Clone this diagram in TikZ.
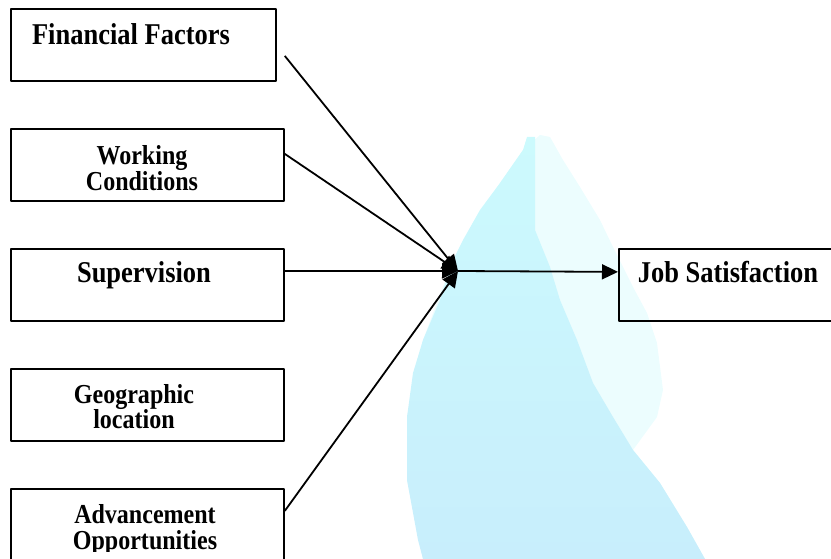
\documentclass[tikz,border=0pt]{standalone}
\usepackage{fontspec}
\setmainfont{Liberation Serif}
\newfontfamily\tallfont{Liberation Serif}[FakeStretch=0.877]
\usetikzlibrary{arrows.meta}

\definecolor{wmlight}{RGB}{236,253,254}
\definecolor{wmtop}{RGB}{204,250,253}
\definecolor{wmbot}{RGB}{200,238,252}

\tikzset{
  factor/.style={draw, line width=1.8pt, minimum width=273pt, minimum height=72pt, anchor=north west, inner sep=0pt},
  bigtxt/.style={font=\tallfont\fontsize{30.2}{32}\selectfont\bfseries, inner sep=0pt, anchor=base},
  smalltxt/.style={font=\tallfont\fontsize{27.4}{25.5}\selectfont\bfseries, inner sep=0pt, anchor=base, align=center},
  link/.style={line width=1.8pt, -{Triangle[length=16pt,width=15pt]}},
}

\begin{document}
\begin{tikzpicture}[x=1pt, y=-1pt, line join=round]
  \useasboundingbox (0,0) rectangle (831,559);
  % pale swoosh in the background
  \fill[wmlight] (540,135) -- (550,137) -- (563,160) -- (580,187) -- (600,220) -- (613,247)
    -- (633,287) -- (647,313) -- (657,343) -- (663,390) -- (657,417) -- (633,450) -- (660,483)
    -- (687,527) -- (705,559) -- (423,559) -- (407,480) -- (407,417) -- (423,340) -- (453,260)
    -- (500,183) -- (523,150) -- cycle;
  \shade[top color=wmtop, bottom color=wmbot] (527,137) -- (535,137) -- (535,230) -- (550,267)
    -- (560,300) -- (577,340) -- (593,383) -- (613,417) -- (633,450) -- (660,483) -- (687,527)
    -- (705,559) -- (423,559) -- (418,540) -- (407,480) -- (407,417) -- (413,373) -- (423,340)
    -- (440,300) -- (453,260) -- (463,240) -- (480,210) -- (500,183) -- (523,150) -- cycle;

  % factor boxes
  \node[factor, minimum width=265pt] (fin) at (10,8) {};
  \node[factor] (work) at (10,128) {};
  \node[factor] (sup) at (10,248) {};
  \node[factor] (geo) at (10,368) {};
  \node[factor] (adv) at (10,488) {};
  \node[factor, minimum width=240pt] (job) at (618,248) {};

  % labels (two-line labels sit on their last baseline)
  \node[bigtxt] (finT) at (131,45) {Financial Factors};
  \begin{scope}
    \clip ([yshift=9pt]work.south west) rectangle (work.north east);
    \node[smalltxt] (workT) at (142,190.5) {Working\\Conditions};
  \end{scope}
  \node[bigtxt] (supT) at (144,283) {Supervision};
  \node[smalltxt] (geoT) at (134,428.5) {Geographic\\location};
  \begin{scope}
    \clip ([yshift=10pt]adv.south west) rectangle (adv.north east);
    \node[smalltxt] (advT) at (145,549) {Advancement\\Opportunities};
  \end{scope}
  \node[bigtxt] (jobT) at (728,283) {Job Satisfaction};

  % arrows
  \coordinate (hub) at (458,271);
  \draw[link] ([shift={(8pt,-11pt)}]fin.east) -- (hub);
  \draw[link] ([yshift=11pt]work.east) -- (hub);
  \draw[link] ([yshift=14pt]sup.east) -- (hub);
  \draw[link] ([yshift=14pt]adv.east) -- (hub);
  \draw[link] (hub) -- ([yshift=13pt]job.west);
\end{tikzpicture}
\end{document}
